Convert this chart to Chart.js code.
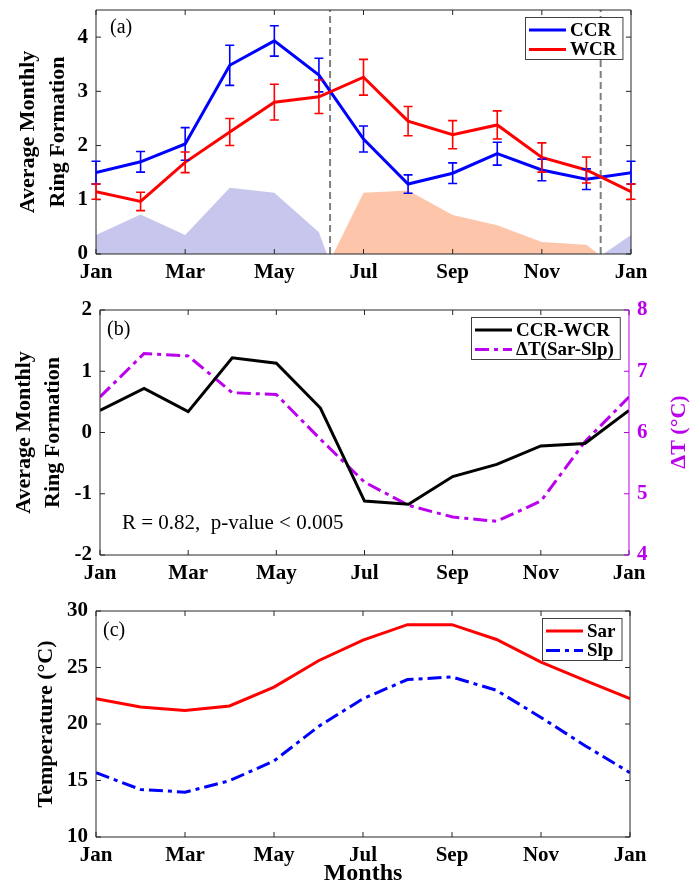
<!DOCTYPE html>
<html lang="en">
<head>
<meta charset="UTF-8">
<title>Monthly ring formation</title>
<style>
    body {
        margin: 0;
        padding: 0;
        background: #fff;
    }
    .panel {
        position: absolute;
        left: 0;
        width: 691px;
    }
</style>
<script src="https://cdn.jsdelivr.net/npm/chart.js@4.4.1/dist/chart.umd.min.js"></script>
</head>
<body>
<div class="panel" style="top:0;height:292px"><canvas id="chartA" width="691" height="292"></canvas></div>
<div class="panel" style="top:292px;height:298px"><canvas id="chartB" width="691" height="298"></canvas></div>
<div class="panel" style="top:590px;height:297px"><canvas id="chartC" width="691" height="297"></canvas></div>

<script>
// ---- data ----
const months = [1, 2, 3, 4, 5, 6, 7, 8, 9, 10, 11, 12, 13];
const monthTicks = [1, 3, 5, 7, 9, 11, 13];
const monthTickLabels = ['Jan', 'Mar', 'May', 'Jul', 'Sep', 'Nov', 'Jan'];

// (a)
const ccr    = [1.50, 1.70, 2.03, 3.48, 3.93, 3.30, 2.12, 1.29, 1.49, 1.85, 1.55, 1.38, 1.50];
const ccrErr = [0.21, 0.19, 0.30, 0.37, 0.28, 0.31, 0.24, 0.17, 0.19, 0.21, 0.20, 0.19, 0.21];
const wcr    = [1.15, 0.97, 1.69, 2.25, 2.80, 2.90, 3.26, 2.45, 2.20, 2.38, 1.78, 1.55, 1.15];
const wcrErr = [0.14, 0.17, 0.19, 0.25, 0.33, 0.31, 0.33, 0.27, 0.26, 0.26, 0.27, 0.24, 0.14];
// shaded |CCR-WCR|, blue where CCR leads, orange where WCR leads
const ccrLeadMonths  = [1, 2, 3, 4, 5, 6, 6.18];
const ccrLeadValues  = [0.35, 0.73, 0.35, 1.22, 1.13, 0.40, 0];
const wcrLeadMonths  = [6.32, 7, 8, 9, 10, 11, 12, 12.27];
const wcrLeadValues  = [0, 1.13, 1.17, 0.72, 0.53, 0.22, 0.17, 0];
const ccrLead2Months = [12.38, 13];
const ccrLead2Values = [0, 0.35];
const seasonSplits = [6.25, 12.32];
const yTicksA = [0, 1, 2, 3, 4];
const yMaxA = 4.5;

// (b)
const ccrMinusWcr = [0.36, 0.72, 0.34, 1.22, 1.13, 0.40, -1.12, -1.17, -0.72, -0.52, -0.22, -0.18, 0.36];
const deltaT      = [6.58, 7.29, 7.25, 6.65, 6.62, 5.89, 5.19, 4.81, 4.62, 4.55, 4.88, 5.85, 6.58];
const yTicksB  = [-2, -1, 0, 1, 2];
const yTicksB2 = [4, 5, 6, 7, 8];

// (c)
const sar = [22.24, 21.50, 21.20, 21.60, 23.27, 25.60, 27.42, 28.79, 28.79, 27.48, 25.47, 23.84, 22.24];
const slp = [15.69, 14.21, 13.97, 14.98, 16.73, 19.78, 22.24, 23.93, 24.16, 22.98, 20.58, 18.06, 15.69];
const yTicksC = [10, 15, 20, 25, 30];

// ---- styling helpers ----
const serif = "'Liberation Serif', 'Times New Roman', serif";
const axisInk = '#262626';
const purple = '#bb00ee';

function pairs(xs, ys) {
    return xs.map((x, i) => ({ x: x, y: ys[i] }));
}

function monthAxis(height, title) {
    const axis = {
        type: 'linear', min: 1, max: 13,
        grid: { display: false, drawTicks: false },
        border: { display: false },
        afterBuildTicks: s => { s.ticks = monthTicks.map(v => ({ value: v })); },
        afterFit: s => { s.height = height; s.paddingLeft = 0; s.paddingRight = 0; },
        ticks: {
            autoSkip: false, maxRotation: 0, padding: 6, color: '#000',
            font: { family: serif, size: 21, weight: 'bold' },
            callback: (v, i) => monthTickLabels[i]
        }
    };
    if (title) {
        axis.title = {
            display: true, text: title, color: '#000', padding: 0,
            font: { family: serif, size: 24, weight: 'bold', lineHeight: 1.1 }
        };
    }
    return axis;
}

function valueAxis(o) {
    const axis = {
        type: 'linear', position: o.position || 'left', min: o.min, max: o.max,
        grid: { display: false, drawTicks: false },
        border: { display: false },
        afterBuildTicks: s => { s.ticks = o.ticks.map(v => ({ value: v })); },
        // fixed width, and no extra room for the end labels: the layout is set by padding
        afterFit: s => { s.width = o.width; s.paddingTop = 0; s.paddingBottom = 0; },
        ticks: { padding: 8, color: o.color || '#000', font: { family: serif, size: 21, weight: 'bold' } }
    };
    if (o.title) {
        axis.title = {
            display: true, text: o.title, color: '#000', padding: { top: o.titlePad, bottom: 0 },
            font: { family: serif, size: 22, weight: 'bold', lineHeight: o.titleLine || 1.2 }
        };
    }
    return axis;
}

// box around the plot with inward ticks, like the original figure
const boxAxes = {
    id: 'boxAxes',
    afterDatasetsDraw(chart, args, opts) {
        const { ctx, chartArea: a, scales } = chart;
        const len = 5;
        ctx.save();
        ctx.lineWidth = 1;
        ctx.strokeStyle = axisInk;
        ctx.beginPath();
        scales.x.ticks.forEach(t => {
            const px = scales.x.getPixelForValue(t.value);
            ctx.moveTo(px, a.bottom); ctx.lineTo(px, a.bottom - len);
            ctx.moveTo(px, a.top); ctx.lineTo(px, a.top + len);
        });
        scales.y.ticks.forEach(t => {
            const py = scales.y.getPixelForValue(t.value);
            ctx.moveTo(a.left, py); ctx.lineTo(a.left + len, py);
            if (!scales.y2) { ctx.moveTo(a.right, py); ctx.lineTo(a.right - len, py); }
        });
        ctx.moveTo(a.right, a.top); ctx.lineTo(a.left, a.top);
        ctx.lineTo(a.left, a.bottom); ctx.lineTo(a.right, a.bottom);
        if (!scales.y2) ctx.lineTo(a.right, a.top);
        ctx.stroke();
        if (scales.y2) {
            ctx.strokeStyle = opts.rightColor;
            ctx.beginPath();
            scales.y2.ticks.forEach(t => {
                const py = scales.y2.getPixelForValue(t.value);
                ctx.moveTo(a.right, py); ctx.lineTo(a.right - len, py);
            });
            ctx.moveTo(a.right, a.top); ctx.lineTo(a.right, a.bottom);
            ctx.stroke();
        }
        ctx.restore();
    }
};

const errorBars = {
    id: 'errorBars',
    afterDatasetsDraw(chart, args, opts) {
        const { ctx, scales: { x, y } } = chart;
        (opts.sets || []).forEach(set => {
            const ds = chart.data.datasets[set.index];
            ctx.save();
            ctx.strokeStyle = ds.borderColor;
            ctx.lineWidth = 1.6;
            ctx.beginPath();
            ds.data.forEach((v, i) => {
                const px = x.getPixelForValue(chart.data.labels[i]);
                const top = y.getPixelForValue(v + set.err[i]);
                const bot = y.getPixelForValue(v - set.err[i]);
                ctx.moveTo(px, top); ctx.lineTo(px, bot);
                ctx.moveTo(px - 4.5, top); ctx.lineTo(px + 4.5, top);
                ctx.moveTo(px - 4.5, bot); ctx.lineTo(px + 4.5, bot);
            });
            ctx.stroke();
            ctx.restore();
        });
    }
};

const boxLegend = {
    id: 'boxLegend',
    afterDraw(chart) {
        const { ctx, chartArea: a } = chart;
        const items = chart.data.datasets.filter(d => d.label);
        ctx.save();
        ctx.font = 'bold 19px ' + serif;
        const textW = Math.max(...items.map(d => ctx.measureText(d.label).width));
        const w = 4 + 37 + 4 + textW + 6, h = 42;
        const left = Math.round(a.right - 9 - w), top = Math.round(a.top + 7);
        ctx.fillStyle = '#fff';
        ctx.fillRect(left, top, w, h);
        ctx.strokeStyle = '#404040';
        ctx.lineWidth = 1;
        ctx.strokeRect(left + 0.5, top + 0.5, w, h);
        items.forEach((d, i) => {
            const cy = top + 13 + i * 19.5;
            ctx.strokeStyle = d.borderColor;
            ctx.lineWidth = d.borderWidth;
            ctx.setLineDash(d.borderDash || []);
            ctx.beginPath();
            ctx.moveTo(left + 4, cy); ctx.lineTo(left + 41, cy);
            ctx.stroke();
            ctx.setLineDash([]);
            ctx.fillStyle = '#000';
            ctx.textBaseline = 'middle';
            ctx.fillText(d.label, left + 45, cy + 1);
        });
        ctx.restore();
    }
};

const notes = {
    id: 'notes',
    afterDraw(chart, args, opts) {
        const ctx = chart.ctx;
        (opts.items || []).forEach(n => {
            ctx.save();
            ctx.font = n.font;
            ctx.fillStyle = n.color || '#000';
            ctx.textAlign = n.align || 'left';
            ctx.textBaseline = 'middle';
            ctx.translate(n.x, n.y);
            if (n.rotate) ctx.rotate(n.rotate);
            ctx.fillText(n.text, 0, 0);
            ctx.restore();
        });
    }
};

const common = {
    responsive: false,
    animation: false,
    events: [],
    elements: { point: { radius: 0 }, line: { tension: 0 } }
};

// ---- (a) ----
new Chart(document.getElementById('chartA'), {
    type: 'line',
    data: {
        labels: months,
        datasets: [
            { label: 'CCR', data: ccr, borderColor: '#0000ff', borderWidth: 3, order: 1 },
            { label: 'WCR', data: wcr, borderColor: '#ff0000', borderWidth: 3, order: 0 },
            ...seasonSplits.map(m => ({
                data: [{ x: m, y: 0 }, { x: m, y: yMaxA }],
                borderColor: '#808080', borderWidth: 2, borderDash: [7, 4], order: 2
            })),
            { data: pairs(ccrLeadMonths, ccrLeadValues), fill: 'origin', backgroundColor: '#c7c7ee', borderColor: 'rgba(0,0,0,0)', order: 3 },
            { data: pairs(wcrLeadMonths, wcrLeadValues), fill: 'origin', backgroundColor: '#fdc6ab', borderColor: 'rgba(0,0,0,0)', order: 3 },
            { data: pairs(ccrLead2Months, ccrLead2Values), fill: 'origin', backgroundColor: '#c7c7ee', borderColor: 'rgba(0,0,0,0)', order: 3 }
        ]
    },
    options: {
        ...common,
        layout: { padding: { top: 10, right: 60, left: 0, bottom: 0 } },
        scales: {
            x: monthAxis(38),
            y: valueAxis({ min: 0, max: yMaxA, ticks: yTicksA, width: 96,
                title: ['Average Monthly', 'Ring Formation'], titlePad: 13, titleLine: 1.36 })
        },
        plugins: {
            legend: { display: false },
            tooltip: { enabled: false },
            errorBars: { sets: [{ index: 0, err: ccrErr }, { index: 1, err: wcrErr }] },
            notes: { items: [{ text: '(a)', x: 110, y: 28, font: '20px ' + serif }] }
        }
    },
    plugins: [boxAxes, errorBars, boxLegend, notes]
});

// ---- (b) ----
new Chart(document.getElementById('chartB'), {
    type: 'line',
    data: {
        labels: months,
        datasets: [
            { label: 'CCR-WCR', data: ccrMinusWcr, borderColor: '#000', borderWidth: 3, yAxisID: 'y', order: 0 },
            { label: '\u0394T(Sar-Slp)', data: deltaT, borderColor: purple, borderWidth: 3,
              borderDash: [14, 5, 4, 5], yAxisID: 'y2', order: 1 }
        ]
    },
    options: {
        ...common,
        layout: { padding: { top: 18, right: 0, left: 0, bottom: 0 } },
        scales: {
            x: monthAxis(35),
            y: valueAxis({ min: -2, max: 2, ticks: yTicksB, width: 100,
                title: ['Average Monthly', 'Ring Formation'], titlePad: 10, titleLine: 1.32 }),
            y2: valueAxis({ position: 'right', min: 4, max: 8, ticks: yTicksB2, width: 62, color: purple })
        },
        plugins: {
            legend: { display: false },
            tooltip: { enabled: false },
            boxAxes: { rightColor: purple },
            notes: { items: [
                { text: '(b)', x: 107, y: 38, font: '20px ' + serif },
                { text: 'R = 0.82,  p-value < 0.005', x: 122, y: 231, font: '21px ' + serif },
                { text: '\u0394T (\u00B0C)', x: 679, y: 140, rotate: -Math.PI / 2, align: 'center',
                  color: purple, font: 'bold 22px ' + serif }
            ] }
        }
    },
    plugins: [boxAxes, boxLegend, notes]
});

// ---- (c) ----
new Chart(document.getElementById('chartC'), {
    type: 'line',
    data: {
        labels: months,
        datasets: [
            { label: 'Sar', data: sar, borderColor: '#ff0000', borderWidth: 3 },
            { label: 'Slp', data: slp, borderColor: '#0000ff', borderWidth: 3, borderDash: [14, 5, 4, 5] }
        ]
    },
    options: {
        ...common,
        layout: { padding: { top: 21, right: 61, left: 0, bottom: 0 } },
        scales: {
            x: monthAxis(50, 'Months'),
            y: valueAxis({ min: 10, max: 30, ticks: yTicksC, width: 96,
                title: 'Temperature (\u00B0C)', titlePad: 33 })
        },
        plugins: {
            legend: { display: false },
            tooltip: { enabled: false },
            notes: { items: [{ text: '(c)', x: 103, y: 41, font: '20px ' + serif }] }
        }
    },
    plugins: [boxAxes, boxLegend, notes]
});
</script>
</body>
</html>
